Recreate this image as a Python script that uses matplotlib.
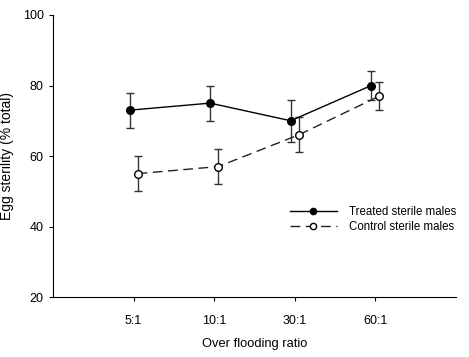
import numpy as np
import matplotlib
matplotlib.use('Agg')
import matplotlib.pyplot as plt
from matplotlib.lines import Line2D

ratios = ['5:1', '10:1', '30:1', '60:1']
treated = [73, 75, 70, 80]
treated_err = [5, 5, 6, 4]
control = [55, 57, 66, 77]
control_err = [5, 5, 5, 4]

plt.rcParams['font.family'] = ['Liberation Sans', 'DejaVu Sans']

fig = plt.figure(figsize=(4.69, 3.57), dpi=100)
ax = fig.add_axes([0.113, 0.168, 0.859, 0.79])

x = np.arange(1, len(ratios) + 1)
off = 0.05
dash = (0, (7, 4))

ax.errorbar(x - off, treated, yerr=treated_err, color='black', ecolor='#333333',
            elinewidth=1, capsize=3, capthick=1, lw=1, marker='o', ms=5.5,
            mfc='black', mec='black', zorder=3)
ax.errorbar(x + off, control, yerr=control_err, color='#222222', ecolor='#333333',
            elinewidth=1, capsize=3, capthick=1, lw=1, ls=dash, marker='o', ms=5.5,
            mfc='white', mec='black', zorder=3)

handles = [
    Line2D([], [], color='black', lw=1, marker='o', ms=4.5, mfc='black', mec='black'),
    Line2D([], [], color='#222222', lw=1, ls=dash, marker='o', ms=4.5, mfc='white', mec='black'),
]
ax.legend(handles, ['Treated sterile males', 'Control sterile males'],
          loc='upper left', bbox_to_anchor=(0.562, 0.358), frameon=False,
          fontsize=8.3, handlelength=4.1, handletextpad=1.0, labelspacing=0.2)

ax.set_xlim(0, 5)
ax.set_ylim(20, 100)
ax.set_xticks(x)
ax.set_xticklabels(ratios)
ax.set_yticks([20, 40, 60, 80, 100])
ax.spines['top'].set_visible(False)
ax.spines['right'].set_visible(False)
ax.tick_params(direction='out', length=3.2, labelsize=9)
ax.tick_params(axis='x', pad=9.5)
ax.tick_params(axis='y', pad=3.5)
ax.set_xlabel('Over flooding ratio', fontsize=9.3, labelpad=8)
ax.set_ylabel('Egg sterility (% total)', fontsize=10)
ax.yaxis.set_label_coords(-0.097, 0.5)

fig.savefig('out.png', dpi=100)
